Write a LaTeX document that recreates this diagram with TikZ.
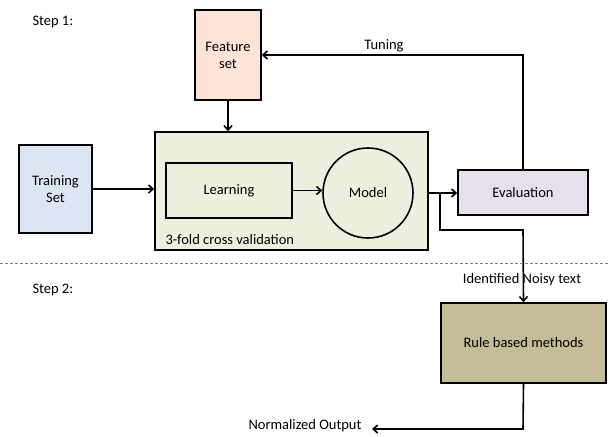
\documentclass[tikz,border=0pt]{standalone}
\usepackage{fontspec}
\setmainfont{Carlito}
\usetikzlibrary{arrows.meta}
\definecolor{peach}{RGB}{253,228,214}
\definecolor{lgreen}{RGB}{235,241,222}
\definecolor{lblue}{RGB}{220,230,242}
\definecolor{lav}{RGB}{229,224,236}
\definecolor{khaki}{RGB}{196,189,151}
\begin{document}
\begin{tikzpicture}[x=1pt,y=-1pt,
  every node/.style={font=\fontsize{14.5}{17}\selectfont},
  box/.style={draw,line width=1.6pt,inner sep=0pt,align=center},
  conn/.style={line width=1.6pt,-{Straight Barb[length=4.5pt,width=8pt]}},
  plain/.style={line width=1.6pt}]
\useasboundingbox (0,0) rectangle (609,436);
\node[anchor=west] (s1) at (29,22) {Step 1:};
\node[anchor=west] (s2) at (29,290) {Step 2:};
\node[box,fill=peach,minimum width=66pt,minimum height=90pt] (fs) at (228,55) {Feature\\set};
\node[box,fill=lgreen,minimum width=273pt,minimum height=118pt] (cv) at (291.5,191) {};
\node[anchor=west] (cvl) at (162,240) {3-fold cross validation};
\node[box,fill=lgreen,minimum width=126pt,minimum height=55pt] (learn) at (229,190.5) {Learning};
\node[box,circle,fill=lgreen,minimum size=90pt] (model) at (368,193) {Model};
\node[box,fill=lblue,minimum width=73pt,minimum height=88pt] (ts) at (55.5,189) {Training\\Set};
\node[box,fill=lav,minimum width=130pt,minimum height=45pt] (ev) at (523,192.5) {Evaluation};
\node[box,fill=khaki,minimum width=165pt,minimum height=80pt] (rb) at (523.5,343) {Rule based methods};
\node (tun) at (384,46) {Tuning};
\node (noisy) at (522,280) {Identified Noisy text};
\node[anchor=east] (norm) at (365,426) {Normalized Output};
\coordinate (tc) at (523,55);
\coordinate (br) at (440,193);
\coordinate (bb) at (440,230);
\coordinate (nb) at (523,230);
\coordinate (ob) at (523,429);
\coordinate (oe) at (372,429);
\coordinate (d1) at (0,263);
\coordinate (d2) at (609,263);
\draw[conn] (fs.south) -- (fs.south |- cv.north);
\draw[conn] (ts.east) -- (ts.east -| cv.west);
\draw[conn] (learn.east) -- (learn.east -| model.west);
\draw[conn] (cv.east |- br) -- (ev.west |- br);
\draw[conn] (ev.north) -- (tc) -- (tc -| fs.east);
\draw[conn] (br) -- (bb) -- (nb) -- (rb.north);
\draw[conn] (rb.south) -- (ob) -- (oe);
\draw[gray,densely dashed,line width=0.8pt] (d1) -- (d2);
\end{tikzpicture}
\end{document}
